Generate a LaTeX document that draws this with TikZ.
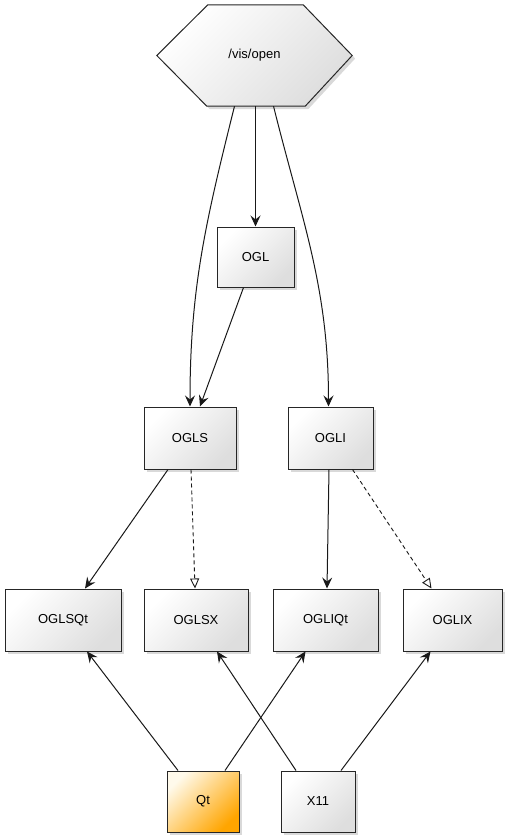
\documentclass[tikz,border=0pt]{standalone}
\usepackage{fontspec}
\setmainfont{Liberation Sans}
\usetikzlibrary{arrows.meta,shadows,shapes.geometric}
\definecolor{qtorange}{RGB}{255,165,0}
\definecolor{qtlight}{RGB}{255,250,235}
\pgfdeclarelayer{bg}
\pgfsetlayers{bg,main}
\tikzset{
  box/.style={draw=black!85, line width=1pt, rectangle, minimum height=62pt,
    top color=white, bottom color=black!13, shading angle=45,
    drop shadow={opacity=0.3, shadow xshift=3pt, shadow yshift=-3pt},
    font=\fontsize{13}{15}\selectfont},
  qtbox/.style={box, top color=qtlight, bottom color=qtorange, shading angle=45},
  arr/.style={draw=black!90, line width=1pt, -{Stealth[length=11pt,width=10pt,inset=4pt]}},
  dsh/.style={draw=black!90, line width=0.9pt, dash pattern=on 4pt off 3pt,
    -{Triangle[open,length=10pt,width=9pt,fill=white]}},
}
\begin{document}
\begin{tikzpicture}[x=1pt,y=-1pt]
\useasboundingbox (0,0) rectangle (507,837);
% hexagon
\node[minimum width=195pt, minimum height=101pt, inner sep=0pt,
  font=\fontsize{13}{15}\selectfont] (open) at (254.5,55.5) {/vis/open};
\begin{pgfonlayer}{bg}
\path[draw=black!85, line width=1pt, top color=white, bottom color=black!13, shading angle=45,
  drop shadow={opacity=0.3, shadow xshift=3pt, shadow yshift=-3pt}]
  ([xshift=51pt]open.north west) -- ([xshift=-49pt]open.north east) -- (open.east)
  -- ([xshift=-47pt]open.south east) -- ([xshift=50pt]open.south west) -- (open.west) -- cycle;
\end{pgfonlayer}
\node[box, minimum width=77pt, minimum height=60pt] (OGL) at (255.5,257) {OGL};
\node[box, minimum width=92pt] (OGLS) at (190,438) {OGLS};
\node[box, minimum width=85pt] (OGLI) at (330.5,438) {OGLI};
\node[box, minimum width=116pt] (OGLSQt) at (63,620) {OGLSQt};
\node[box, minimum width=104pt] (OGLSX) at (196,620) {OGLSX};
\node[box, minimum width=105pt] (OGLIQt) at (325.5,620) {OGLIQt};
\node[box, minimum width=99pt] (OGLIX) at (452.5,620) {OGLIX};
\node[qtbox, minimum width=72pt, minimum height=61pt] (Qt) at (203,801.5) {Qt};
\node[box, minimum width=74pt, minimum height=61pt] (X11) at (318,801.5) {X11};
% connectors
\draw[arr] ([xshift=-20pt]open.south) to[out=-104,in=90] (OGLS.north);
\draw[arr] (open.south -| OGL.north) -- (OGL.north);
\draw[arr] ([xshift=-12pt]OGL.south) -- ([xshift=10pt]OGLS.north);
\draw[arr] ([xshift=19pt]open.south) to[out=-76,in=90] ([xshift=-2pt]OGLI.north);
\draw[arr] ([xshift=-22pt]OGLS.south) -- ([xshift=22pt]OGLSQt.north);
\draw[dsh] ([xshift=1pt]OGLS.south) -- ([xshift=-1pt]OGLSX.north);
\draw[arr] ([xshift=-1.5pt]OGLI.south) -- ([xshift=1.5pt]OGLIQt.north);
\draw[dsh] ([xshift=22pt]OGLI.south) -- ([xshift=-21pt]OGLIX.north);
\draw[arr] ([xshift=-25pt]Qt.north) -- ([xshift=24pt]OGLSQt.south);
\draw[arr] ([xshift=22pt]Qt.north) -- ([xshift=-20pt]OGLIQt.south);
\draw[arr] ([xshift=-22pt]X11.north) -- ([xshift=21pt]OGLSX.south);
\draw[arr] ([xshift=23pt]X11.north) -- ([xshift=-22pt]OGLIX.south);
\end{tikzpicture}
\end{document}
